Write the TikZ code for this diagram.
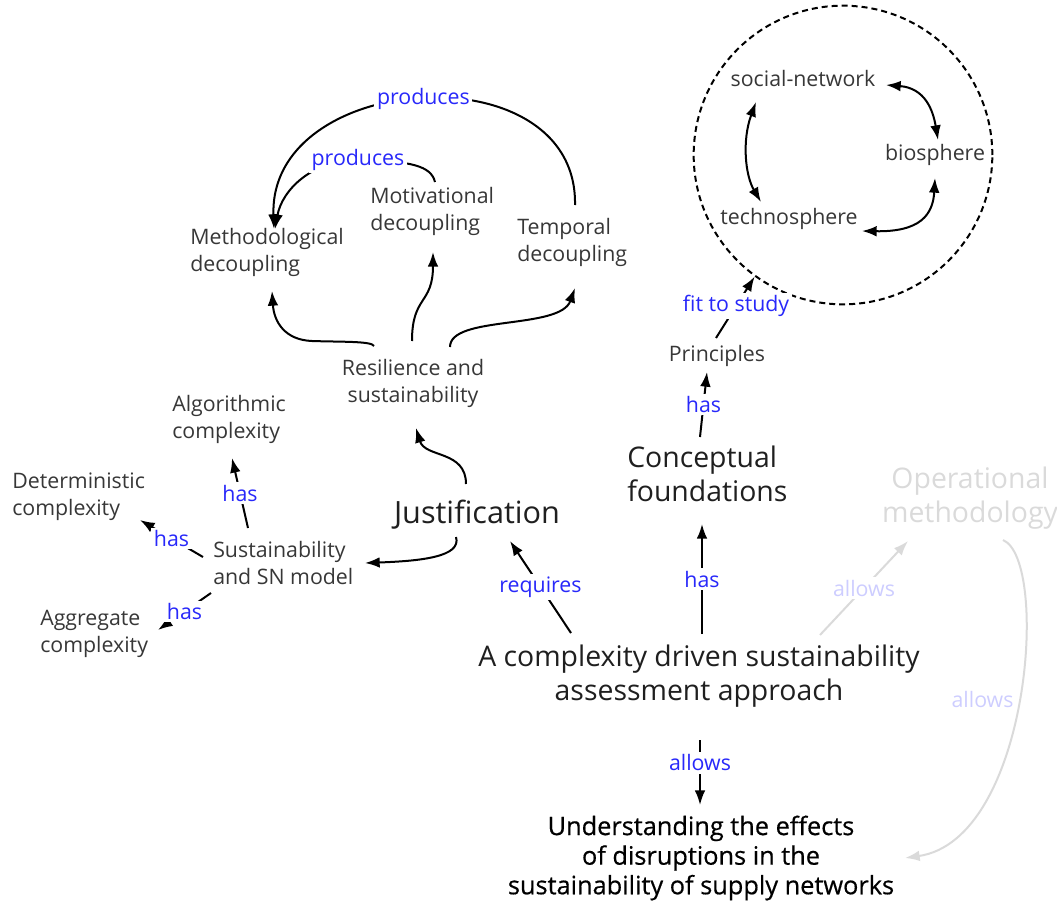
\documentclass[tikz,border=0pt]{standalone}
\usepackage{fontspec}
\setmainfont{Open Sans}
\newfontfamily\medfont{Open Sans}[FakeBold=0.5]
\usetikzlibrary{arrows.meta}
\definecolor{lblblue}{RGB}{40,40,250}
\definecolor{txtgray}{RGB}{55,55,55}
\definecolor{ghost}{RGB}{218,218,218}
\definecolor{ghostblue}{RGB}{205,205,255}
\begin{document}
\begin{tikzpicture}[x=0.75pt,y=-0.75pt,
  every node/.style={inner sep=0pt},
  idea/.style={text=txtgray, font=\fontsize{16}{20.3}\selectfont, align=left},
  ideac/.style={idea, align=center},
  big/.style={text=black!88, font=\fontsize{21.3}{25.5}\selectfont, align=center},
  bigl/.style={big, align=left},
  goal/.style={text=black, font=\medfont\fontsize{19}{22.2}\selectfont, align=center},
  lbl/.style={text=lblblue, font=\fontsize{16}{18}\selectfont, fill=white, inner sep=2pt},
  ghostlbl/.style={lbl, text=ghostblue},
  link/.style={draw=black, line width=1.5pt, -{Latex[length=11pt,width=8pt]}},
  both/.style={draw=black, line width=1.5pt, {Latex[length=11pt,width=8pt]}-{Latex[length=11pt,width=8pt]}},
  faint/.style={draw=ghost, line width=1.5pt, -{Latex[length=11pt,width=8pt]}},
]
\useasboundingbox (0,0) rectangle (1057,906);

% decoupling cluster
\node[idea, anchor=west] (meth) at (190,252) {Methodological\\decoupling};
\node[idea, anchor=west] (motiv) at (370,211) {Motivational\\decoupling};
\node[idea, anchor=west] (temp) at (517,242) {Temporal\\decoupling};
\node[ideac] (resil) at (413,383) {Resilience and\\sustainability};

% complexity cluster
\node[idea, anchor=west] (algo) at (172,419) {Algorithmic\\complexity};
\node[idea, anchor=west] (determ) at (12,497) {Deterministic\\complexity};
\node[idea, anchor=west] (sust) at (213,563) {Sustainability\\and SN model};
\node[idea, anchor=west] (aggr) at (40,634) {Aggregate\\complexity};

% main concepts
\node[big, font=\fontsize{23}{26}\selectfont] (justif) at (477,515) {Justification};
\node[bigl, anchor=west] (concept) at (627,474) {Conceptual\\foundations};
\node[big, text=ghost] (oper) at (970,498) {Operational\\methodology};
\node[big] (main) at (699,676) {A complexity driven sustainability\\assessment approach};
\node[goal] (underst) at (701,858) {Understanding the effects\\of disruptions in the\\sustainability of supply networks};
\node[idea] (princ) at (717,356) {Principles};

% spheres
\node[draw=black, dashed, line width=1.5pt, circle, minimum size=224pt, dash pattern=on 4.5pt off 3pt] (sphere) at (843,155) {};
\node[idea] (social) at (803,79) {social-network};
\node[idea] (bio) at (935,155) {biosphere};
\node[idea] (techno) at (789,219) {technosphere};

% decoupling links
\draw[link] ([shift={(58,-37)}]temp.west) .. controls (578,50) and (268,70) .. node[lbl, pos=0.5] {produces} ([shift={(84,-23)}]meth.west);
\draw[link] ([shift={(65,-29)}]motiv.west) .. controls (431,166) and (412,161) .. (358,160)
  node[lbl] {produces} .. controls (312,160) and (282,190) .. ([shift={(85,-23)}]meth.west);
\draw[link] ([shift={(-39,-37)}]resil.center) .. controls (372,341) and (340,342) .. (312,341)
  .. controls (285,340) and (274,322) .. ([shift={(82,39)}]meth.west);
\draw[link] ([shift={(-1,-42)}]resil.center) .. controls (412,295) and (433,305) .. ([shift={(63,41)}]motiv.west);
\draw[link] ([shift={(37,-36)}]resil.center) .. controls (450,315) and (560,330) .. ([shift={(58,46)}]temp.west);

% justification links
\draw[link] ([shift={(-11,-31)}]justif.center) .. controls (466,450) and (425,458) .. ([shift={(3,45)}]resil.center);
\draw[link] ([shift={(-21,22)}]justif.center) .. controls (462,557) and (420,561) .. ([shift={(152,0)}]sust.west);

% model links
\draw[link] ([shift={(35,-35)}]sust.west) -- node[lbl] {has} ([shift={(60,39)}]algo.west);
\draw[link] ([shift={(-10,-6)}]sust.west) -- node[lbl] {has} ([shift={(128,23)}]determ.west);
\draw[link] ([shift={(-2,30)}]sust.west) -- node[lbl] {has} ([shift={(118,-4)}]aggr.west);

% approach links
\draw[link] ([shift={(-128,-43)}]main.center) -- node[lbl] {requires} ([shift={(33,26)}]justif.center);
\draw[link] ([shift={(3,-42)}]main.center) -- node[lbl] {has} ([shift={(75,50)}]concept.west);
\draw[faint] ([shift={(121,-41)}]main.center) -- node[ghostlbl] {allows} ([shift={(-62,43)}]oper.center);
\draw[link] ([shift={(1,64)}]main.center) -- node[lbl, pos=0.35] {allows} ([shift={(-1,-53)}]underst.center);
\draw[faint] ([shift={(33,42)}]oper.center) .. controls (1050,560) and (1030,840) .. node[ghostlbl, pos=0.5, left=1pt, fill=none] {allows} ([shift={(204,0)}]underst.center);

% principles links
\draw[link] ([shift={(73,-37)}]concept.west) -- node[lbl] {has} ([shift={(-10,16)}]princ.center);
\draw[link] ([shift={(-1,-18)}]princ.center) -- node[lbl, pos=0.52] {fit to study} (sphere.234);

% sphere links
\draw[both] ([shift={(83,6)}]social.center) .. controls (925,88) and (933,110) .. ([shift={(3,-15)}]bio.center);
\draw[both] ([shift={(73,12)}]techno.center) .. controls (920,232) and (933,215) .. ([shift={(0,23)}]bio.center);
\draw[both] ([shift={(-47,23)}]social.center) .. controls (742,140) and (745,175) .. ([shift={(-28,-17)}]techno.center);
\end{tikzpicture}
\end{document}
